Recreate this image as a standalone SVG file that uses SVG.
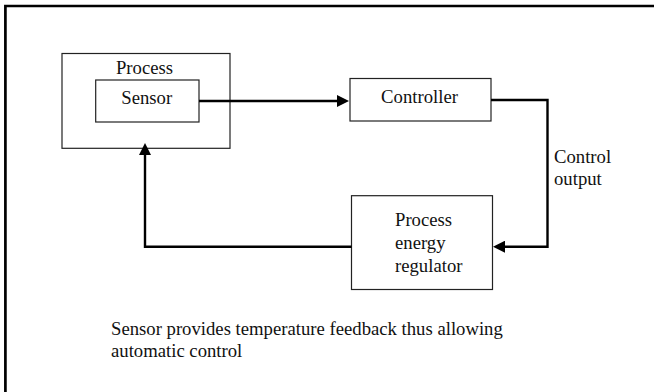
<svg xmlns="http://www.w3.org/2000/svg" width="654" height="392" viewBox="0 0 654 392">
<style>
.box{fill:#fff;stroke:#222;stroke-width:1.2}
.t{font-family:"Liberation Serif","Times New Roman",serif;font-size:18.7px;fill:#111}
.c{text-anchor:middle}
.conn{fill:none;stroke:#000;stroke-width:2.4}
.frame{fill:none;stroke:#000;stroke-width:2.7}
</style>
<defs>
<marker id="ah" viewBox="0 0 12 12" refX="1" refY="6" markerWidth="12" markerHeight="12" markerUnits="userSpaceOnUse" orient="auto">
<path d="M0,0 L12,6 L0,12 Z" fill="#000"/>
</marker>
</defs>
<rect width="654" height="392" fill="#fff"/>
<path class="frame" d="M5.4,392 V6 H654"/>
<g id="process">
<rect class="box" x="62" y="53.5" width="168" height="94.8"/>
<text class="t c" x="144.5" y="74">Process</text>
</g>
<g id="sensor">
<rect class="box" x="95.7" y="80" width="103.3" height="42"/>
<text class="t c" x="146.7" y="104">Sensor</text>
</g>
<g id="controller">
<rect class="box" x="350" y="78.5" width="141" height="42.5"/>
<text class="t c" x="419.5" y="103">Controller</text>
</g>
<g id="regulator">
<rect class="box" x="351.5" y="195.7" width="141" height="93.8"/>
<text class="t" x="395" y="226">Process</text>
<text class="t" x="395" y="248.5">energy</text>
<text class="t" x="395" y="271.5">regulator</text>
</g>
<g id="connectors">
<path class="conn" d="M199,101 H338" marker-end="url(#ah)"/>
<path class="conn" d="M491,100 H547.5 V246.7 H504" marker-end="url(#ah)"/>
<path class="conn" d="M351.5,246.7 H145 V154" marker-end="url(#ah)"/>
</g>
<g id="labels">
<text class="t" x="554" y="162.7">Control</text>
<text class="t" x="554" y="185">output</text>
<text class="t" x="111" y="335">Sensor provides temperature feedback thus allowing</text>
<text class="t" x="111" y="356.7">automatic control</text>
</g>
</svg>
